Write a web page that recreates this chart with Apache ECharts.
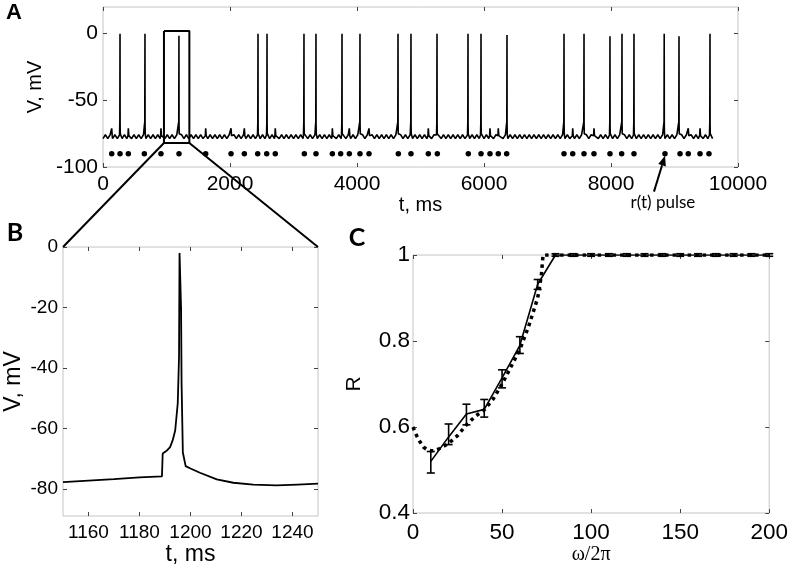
<!DOCTYPE html>
<html>
<head>
<meta charset="utf-8">
<script src="https://cdn.jsdelivr.net/npm/echarts@6/dist/echarts.min.js"></script>
<style>
  html, body { margin: 0; padding: 0; background: #fff; }
  #chart { width: 791px; height: 569px; }
</style>
</head>
<body>
<div id="chart"></div>
<script>
// ---- panel A : membrane potential over 10 s ----
const spikeTimes = [268, 661, 1196, 2441, 2583, 3165, 3354, 3764, 4047, 4646, 4850, 5260, 5748, 5953, 6362, 7260, 7575, 7984, 8173, 8362, 8838, 9071, 9559];
const spikePeaks = [0, 0, -1.5, 0, 0, 0, 0, 0, 0, 0, 0, 0, 0, 0, -1, 0, 0, -2, 0, 0, 0, -2, 0];
const pulseTimes = [137, 268, 399, 651, 913, 1197, 1617, 2016, 2226, 2436, 2578, 2713, 3171, 3354, 3612, 3743, 3879, 4047, 4189,
    4651, 4850, 5123, 5265, 5753, 5953, 6094, 6225, 6357, 7260, 7397, 7575, 7732, 7984, 8168, 8362, 8850, 9087, 9217, 9402, 9543];
const pulseLevel = -90;
const bumpPeak = -71;
const rippleLevels = [-78.7, -75.8];
const ripplePeriod = 75;
const traceEnd = 9610;
const zoomBoxT = [960, 1360];
const zoomBoxV = [-82, 2];
const arrowPulse = 8850;

// ---- panel B : one spike, close up ----
const bTrace = [
    [1150, -77.8], [1160, -77.3], [1170, -76.8], [1180, -76.2], [1188.8, -75.9],
    [1189.1, -68.3], [1190.5, -67.5], [1192, -66.2], [1193, -64], [1194, -60.7],
    [1195, -51.7], [1195.5, -36.4], [1195.7, -2], [1196, -1.5], [1196.3, -20],
    [1196.5, -45], [1197, -68], [1198.1, -72.5], [1200, -73.3], [1203.7, -74.7],
    [1210.3, -76.9], [1216.8, -78], [1224.6, -78.6], [1233.7, -78.9], [1242, -78.6], [1250, -78.3]
];

// ---- panel C : R vs omega/2pi ----
const cFreq = [10, 20, 30, 40, 50, 60, 70, 80, 90, 100, 110, 120, 130, 140, 150, 160, 170, 180, 190, 200];
const cR = [0.52, 0.577, 0.63, 0.641, 0.714, 0.79, 0.932, 1, 1, 1, 1, 1, 1, 1, 1, 1, 1, 1, 1, 1];
const cLow = [0.493, 0.559, 0.605, 0.623, 0.691, 0.771, 0.92, 0.997, 0.997, 0.997, 0.997, 0.997, 0.997, 0.997, 0.997, 0.997, 0.997, 0.997, 0.997, 0.997];
const cHigh = [0.543, 0.607, 0.653, 0.664, 0.733, 0.81, 0.943, 1.003, 1.003, 1.003, 1.003, 1.003, 1.003, 1.003, 1.003, 1.003, 1.003, 1.003, 1.003, 1.003];
const cTheoryX = [0, 2, 4, 6, 8, 10, 12, 15, 20, 25, 30, 35, 40, 45, 50, 55, 60, 65, 70, 72, 73, 80, 200];
const cTheoryR = [0.6, 0.58, 0.565, 0.553, 0.547, 0.545, 0.545, 0.55, 0.562, 0.58, 0.605, 0.625, 0.64, 0.665, 0.7, 0.74, 0.78, 0.835, 0.9, 0.95, 1, 1, 1];

// tick labels
const aXTicks = [0, 2000, 4000, 6000, 8000, 10000];
const aYTicks = [-100, -50, 0];
const bXTicks = [1160, 1180, 1200, 1220, 1240];
const bYTicks = [-80, -60, -40, -20, 0];
const cXTicks = [0, 50, 100, 150, 200];
const cYTicks = [0.4, 0.6, 0.8, 1];

// build trace A from the spikes, the pulse bumps and the small ripple
const bumpTimes = pulseTimes.filter(t => !spikeTimes.some(s => Math.abs(s - t) < 30));
const aTrace = [];
spikeTimes.forEach((t, i) => {
    aTrace.push([t - 8, -76], [t - 3, -66], [t, spikePeaks[i]], [t + 1.5, -68], [t + 4, -75]);
});
bumpTimes.forEach(t => {
    aTrace.push([t - 6, -76.5], [t, bumpPeak], [t + 8, -76.5]);
});
const busy = spikeTimes.concat(bumpTimes);
for (let k = 0; k * ripplePeriod / 2 <= traceEnd; k++) {
    const t = k * ripplePeriod / 2;
    if (busy.some(b => Math.abs(b - t) < 12)) continue;
    aTrace.push([t, rippleLevels[k % 2]]);
}
aTrace.sort((p, q) => p[0] - q[0]);

const boxLine = [
    [zoomBoxT[0], zoomBoxV[1]], [zoomBoxT[1], zoomBoxV[1]], [zoomBoxT[1], zoomBoxV[0]],
    [zoomBoxT[0], zoomBoxV[0]], [zoomBoxT[0], zoomBoxV[1]]
];

const FONT = 'Liberation Sans';

function axis(grid, pos, min, max, ticks, fontSize, labelMargin, showLabel) {
    return {
        type: 'value', gridIndex: grid, position: pos, min: min, max: max,
        axisLine: { show: false, onZero: false },
        axisTick: { show: true, inside: true, length: 4, customValues: ticks, lineStyle: { color: '#444', width: 1 } },
        axisLabel: {
            show: showLabel, customValues: ticks, fontFamily: FONT, fontSize: fontSize, color: '#000', margin: labelMargin,
            formatter: v => String(v)
        },
        splitLine: { show: false }
    };
}

function named(ax, name, gap, size, family) {
    ax.name = name;
    ax.nameLocation = 'middle';
    ax.nameGap = gap;
    ax.nameTextStyle = { fontFamily: family || FONT, fontSize: size, color: '#000' };
    return ax;
}

const chart = echarts.init(document.getElementById('chart'), null, { renderer: 'canvas' });

const gridStyle = { show: true, borderColor: '#c4c4c4', borderWidth: 1, containLabel: false };

chart.setOption({
    animation: false,
    backgroundColor: '#fff',
    grid: [
        Object.assign({ left: 103, top: 7, width: 635, height: 160 }, gridStyle),
        Object.assign({ left: 63, top: 247, width: 255, height: 269 }, gridStyle),
        Object.assign({ left: 413, top: 255, width: 357, height: 258 }, gridStyle)
    ],
    xAxis: [
        named(axis(0, 'bottom', 0, 10000, aXTicks, 21, 7, true), 't, ms', 28, 20),
        axis(0, 'top', 0, 10000, aXTicks, 21, 7, false),
        named(axis(1, 'bottom', 1150, 1250, bXTicks, 19, 7, true), 't, ms', 18, 23),
        axis(1, 'top', 1150, 1250, bXTicks, 19, 7, false),
        named(axis(2, 'bottom', 0, 200, cXTicks, 22.5, 8, true), 'ω/2π', 32, 20, 'Liberation Serif'),
        axis(2, 'top', 0, 200, cXTicks, 22.5, 8, false)
    ],
    yAxis: [
        named(axis(0, 'left', -100, 20, aYTicks, 21, 5, true), 'V, mV', 56, 20),
        axis(0, 'right', -100, 20, aYTicks, 21, 5, false),
        named(axis(1, 'left', -89, 0, bYTicks, 19, 5, true), 'V, mV', 38, 23),
        axis(1, 'right', -89, 0, bYTicks, 19, 5, false),
        named(axis(2, 'left', 0.4, 1, cYTicks, 22.5, 3, true), 'R', 48, 21),
        axis(2, 'right', 0.4, 1, cYTicks, 22.5, 3, false)
    ],
    series: [
        {
            type: 'line', xAxisIndex: 0, yAxisIndex: 0, data: aTrace, showSymbol: false,
            lineStyle: { color: '#000', width: 1.6 }
        },
        {
            type: 'scatter', xAxisIndex: 0, yAxisIndex: 0, symbol: 'circle', symbolSize: 5.5,
            data: pulseTimes.map(t => [t, pulseLevel]), itemStyle: { color: '#000', opacity: 1 }
        },
        {
            type: 'line', xAxisIndex: 0, yAxisIndex: 0, data: boxLine, showSymbol: false,
            lineStyle: { color: '#000', width: 2 }
        },
        {
            type: 'line', xAxisIndex: 2, yAxisIndex: 2, data: bTrace, showSymbol: false,
            lineStyle: { color: '#000', width: 1.8 }
        },
        {
            type: 'line', xAxisIndex: 4, yAxisIndex: 4, showSymbol: false,
            data: cTheoryX.map((x, i) => [x, cTheoryR[i]]),
            lineStyle: { color: '#000', width: 3.5, type: [3.5, 4], cap: 'butt' }
        },
        {
            type: 'line', xAxisIndex: 4, yAxisIndex: 4, showSymbol: false,
            data: cFreq.map((x, i) => [x, cR[i]]),
            lineStyle: { color: '#000', width: 1.6 }
        },
        {
            type: 'custom', xAxisIndex: 4, yAxisIndex: 4,
            data: cFreq.map((x, i) => [x, cLow[i], cHigh[i]]),
            encode: { x: 0, y: [1, 2] },
            renderItem: function (params, api) {
                const lo = api.coord([api.value(0), api.value(1)]);
                const hi = api.coord([api.value(0), api.value(2)]);
                const w = 4;
                const st = { stroke: '#000', lineWidth: 1.6 };
                return {
                    type: 'group',
                    children: [
                        { type: 'line', shape: { x1: lo[0], y1: lo[1], x2: hi[0], y2: hi[1] }, style: st },
                        { type: 'line', shape: { x1: lo[0] - w, y1: lo[1], x2: lo[0] + w, y2: lo[1] }, style: st },
                        { type: 'line', shape: { x1: hi[0] - w, y1: hi[1], x2: hi[0] + w, y2: hi[1] }, style: st }
                    ]
                };
            }
        }
    ]
});

// zoom lines, arrow and panel letters
const gA = { xAxisIndex: 0, yAxisIndex: 0 };
const gB = { xAxisIndex: 2, yAxisIndex: 2 };
const boxL = chart.convertToPixel(gA, [zoomBoxT[0], zoomBoxV[0]]);
const boxR = chart.convertToPixel(gA, [zoomBoxT[1], zoomBoxV[0]]);
const bL = chart.convertToPixel(gB, [1150, 0]);
const bR = chart.convertToPixel(gB, [1250, 0]);
const tip = chart.convertToPixel(gA, [arrowPulse, pulseLevel - 1.5]);
const tail = [tip[0] - 11, tip[1] + 36];
const len = Math.hypot(tip[0] - tail[0], tip[1] - tail[1]);
const ux = (tip[0] - tail[0]) / len, uy = (tip[1] - tail[1]) / len;
const hl = 10, hw = 4;
const base = [tip[0] - ux * hl, tip[1] - uy * hl];

chart.setOption({
    graphic: [
        { type: 'line', shape: { x1: boxL[0], y1: boxL[1], x2: bL[0], y2: bL[1] }, style: { stroke: '#000', lineWidth: 2 } },
        { type: 'line', shape: { x1: boxR[0], y1: boxR[1], x2: bR[0], y2: bR[1] }, style: { stroke: '#000', lineWidth: 2 } },
        { type: 'line', shape: { x1: tail[0], y1: tail[1], x2: base[0], y2: base[1] }, style: { stroke: '#000', lineWidth: 2 } },
        {
            type: 'polygon',
            shape: { points: [tip, [base[0] - uy * hw, base[1] + ux * hw], [base[0] + uy * hw, base[1] - ux * hw]] },
            style: { fill: '#000' }
        },
        {
            type: 'text', x: tail[0] + 9, y: tail[1] + 11,
            style: { text: 'r(t) pulse', fontFamily: 'Lato', fontSize: 17, fill: '#000', align: 'center', verticalAlign: 'middle' }
        },
        { type: 'text', x: 14, y: 13, style: { text: 'A', fontFamily: FONT, fontWeight: 'bold', fontSize: 22, fill: '#000', align: 'center', verticalAlign: 'middle' } },
        { type: 'text', x: 15, y: 233, style: { text: 'B', fontFamily: 'Lato', fontWeight: 'bold', fontSize: 25, fill: '#000', align: 'center', verticalAlign: 'middle' } },
        { type: 'text', x: 357, y: 238, style: { text: 'C', fontFamily: 'Lato', fontWeight: 'bold', fontSize: 25, fill: '#000', align: 'center', verticalAlign: 'middle' } }
    ]
});
</script>
</body>
</html>
